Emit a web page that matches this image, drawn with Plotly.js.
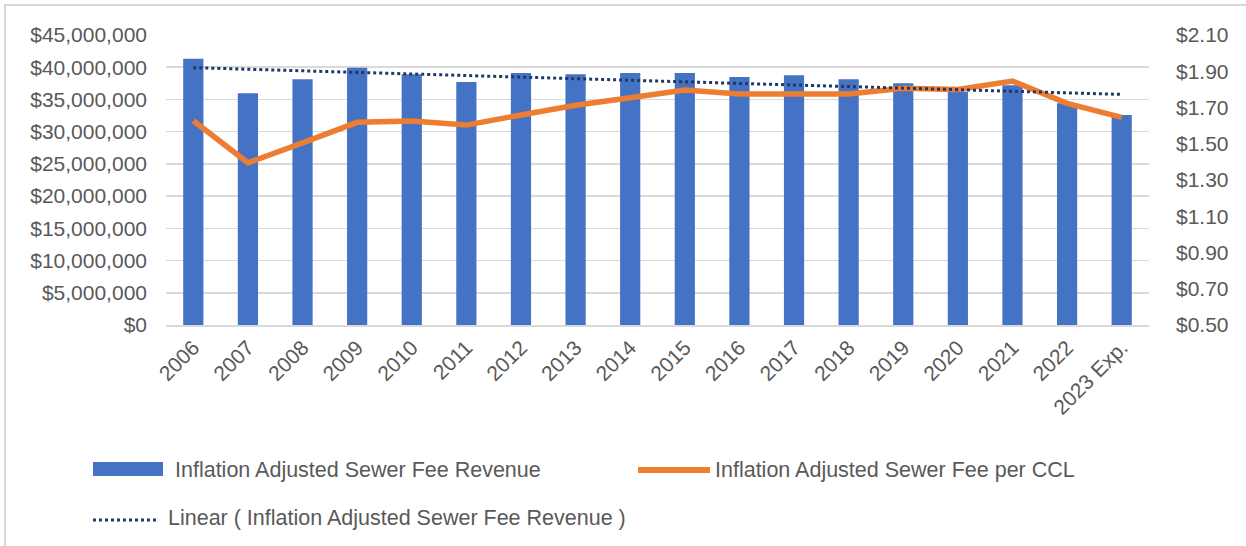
<!DOCTYPE html>
<html>
<head>
<meta charset="utf-8">
<script src="https://cdn.plot.ly/plotly-3.0.1.min.js"></script>
<style>
  html, body { margin: 0; padding: 0; background: #ffffff; }
  #wrap { position: relative; width: 1246px; height: 546px; }
  #chart { position: absolute; left: 0; top: 0; width: 1246px; height: 546px; }
  #frame { position: absolute; left: 4px; top: 4px; width: 1300px; height: 600px;
           border-left: 2px solid #d9d9d9; border-top: 2px solid #d9d9d9; pointer-events: none; }
</style>
</head>
<body>
<div id="wrap">
  <div id="chart"></div>
  <div id="frame"></div>
</div>
<script>
// ---- data ----
const years = ['2006','2007','2008','2009','2010','2011','2012','2013','2014','2015',
               '2016','2017','2018','2019','2020','2021','2022','2023 Exp.'];
const revenue = [41300000, 35950000, 38150000, 39900000, 38900000, 37700000, 39100000, 38900000, 39100000,
                 39100000, 38500000, 38750000, 38150000, 37500000, 36200000, 37200000, 34400000, 32600000];
const feePerCCL = [1.627, 1.395, 1.505, 1.618, 1.626, 1.603, 1.659, 1.712, 1.754, 1.797,
                   1.774, 1.774, 1.774, 1.806, 1.800, 1.846, 1.723, 1.646];
const leftTicks = [0, 5000000, 10000000, 15000000, 20000000, 25000000, 30000000, 35000000, 40000000, 45000000];
const leftTickText = ['$0','$5,000,000','$10,000,000','$15,000,000','$20,000,000','$25,000,000',
                      '$30,000,000','$35,000,000','$40,000,000','$45,000,000'];
const rightTicks = [0.5, 0.7, 0.9, 1.1, 1.3, 1.5, 1.7, 1.9, 2.1];
const rightTickText = ['$0.50','$0.70','$0.90','$1.10','$1.30','$1.50','$1.70','$1.90','$2.10'];
const seriesNames = ['Inflation Adjusted Sewer Fee Revenue',
                     'Inflation Adjusted Sewer Fee per CCL',
                     'Linear ( Inflation Adjusted Sewer Fee Revenue )'];

// linear trendline (least squares on category index)
const n = revenue.length;
const idx = revenue.map((_, i) => i);
const mx = idx.reduce((a, b) => a + b, 0) / n;
const my = revenue.reduce((a, b) => a + b, 0) / n;
let sxy = 0, sxx = 0;
for (let i = 0; i < n; i++) { sxy += (idx[i] - mx) * (revenue[i] - my); sxx += (idx[i] - mx) * (idx[i] - mx); }
const slope = sxy / sxx;
const icpt = my - slope * mx;
const trend = idx.map(i => icpt + slope * i);

// ---- layout geometry ----
const W = 1246, H = 546;
const M = { l: 166, r: 97, t: 35, b: 221 };
const PW = W - M.l - M.r, PH = H - M.t - M.b;
const px = x => (x - M.l) / PW;
const py = y => (H - M.b - y) / PH;

const textColor = '#595959';
const fontFam = '"Liberation Sans", Arial, sans-serif';
const tickSize = 21;
const legSize = 21.5;

const traces = [
  {
    type: 'bar', x: years, y: revenue, name: seriesNames[0],
    marker: { color: '#4472c4' }, width: 0.37, yaxis: 'y'
  },
  {
    type: 'scatter', mode: 'lines', x: years, y: feePerCCL, name: seriesNames[1],
    line: { color: '#ed7d31', width: 5.5 }, yaxis: 'y2'
  },
  {
    type: 'scatter', mode: 'lines', x: years, y: trend, name: seriesNames[2],
    line: { color: '#203864', width: 3, dash: 'dot' }, yaxis: 'y3'
  }
];

const layout = {
  width: W, height: H,
  margin: M,
  paper_bgcolor: '#ffffff', plot_bgcolor: '#ffffff',
  showlegend: false,
  font: { family: fontFam, size: tickSize, color: textColor },
  xaxis: {
    type: 'category', range: [-0.5, years.length - 0.5],
    tickangle: -45, tickfont: { size: tickSize, color: textColor, family: fontFam },
    showgrid: false, showline: true, linecolor: '#d9d9d9', linewidth: 2,
    ticks: '', fixedrange: true
  },
  yaxis: {
    range: [0, 45000000], tickmode: 'array', tickvals: leftTicks, ticktext: leftTickText,
    showgrid: true, gridcolor: '#d9d9d9', gridwidth: 1.5,
    zeroline: false, showline: false, ticks: '',
    ticklabelstandoff: 18,
    tickfont: { size: tickSize, color: textColor, family: fontFam }
  },
  yaxis2: {
    overlaying: 'y', side: 'right', range: [0.5, 2.1],
    tickmode: 'array', tickvals: rightTicks, ticktext: rightTickText,
    showgrid: false, zeroline: false, showline: false, ticks: '',
    ticklabelstandoff: 26,
    tickfont: { size: tickSize, color: textColor, family: fontFam }
  },
  yaxis3: {
    overlaying: 'y', range: [0, 45000000], visible: false
  },
  shapes: [
    { type: 'rect', xref: 'paper', yref: 'paper', x0: px(93), x1: px(163), y0: py(476), y1: py(462),
      fillcolor: '#4472c4', line: { width: 0 } },
    { type: 'line', xref: 'paper', yref: 'paper', x0: px(638), x1: px(710), y0: py(470), y1: py(470),
      line: { color: '#ed7d31', width: 6 } },
    { type: 'line', xref: 'paper', yref: 'paper', x0: px(93), x1: px(157), y0: py(520), y1: py(520),
      line: { color: '#203864', width: 3, dash: 'dot' } }
  ],
  annotations: [
    { xref: 'paper', yref: 'paper', x: px(173), y: py(470), xanchor: 'left', yanchor: 'middle',
      text: seriesNames[0], showarrow: false, font: { size: legSize, color: textColor, family: fontFam } },
    { xref: 'paper', yref: 'paper', x: px(713), y: py(470), xanchor: 'left', yanchor: 'middle',
      text: seriesNames[1], showarrow: false, font: { size: legSize, color: textColor, family: fontFam } },
    { xref: 'paper', yref: 'paper', x: px(166), y: py(518), xanchor: 'left', yanchor: 'middle',
      text: seriesNames[2], showarrow: false, font: { size: legSize, color: textColor, family: fontFam } }
  ]
};

Plotly.newPlot('chart', traces, layout, { displayModeBar: false, staticPlot: true });
</script>
</body>
</html>
